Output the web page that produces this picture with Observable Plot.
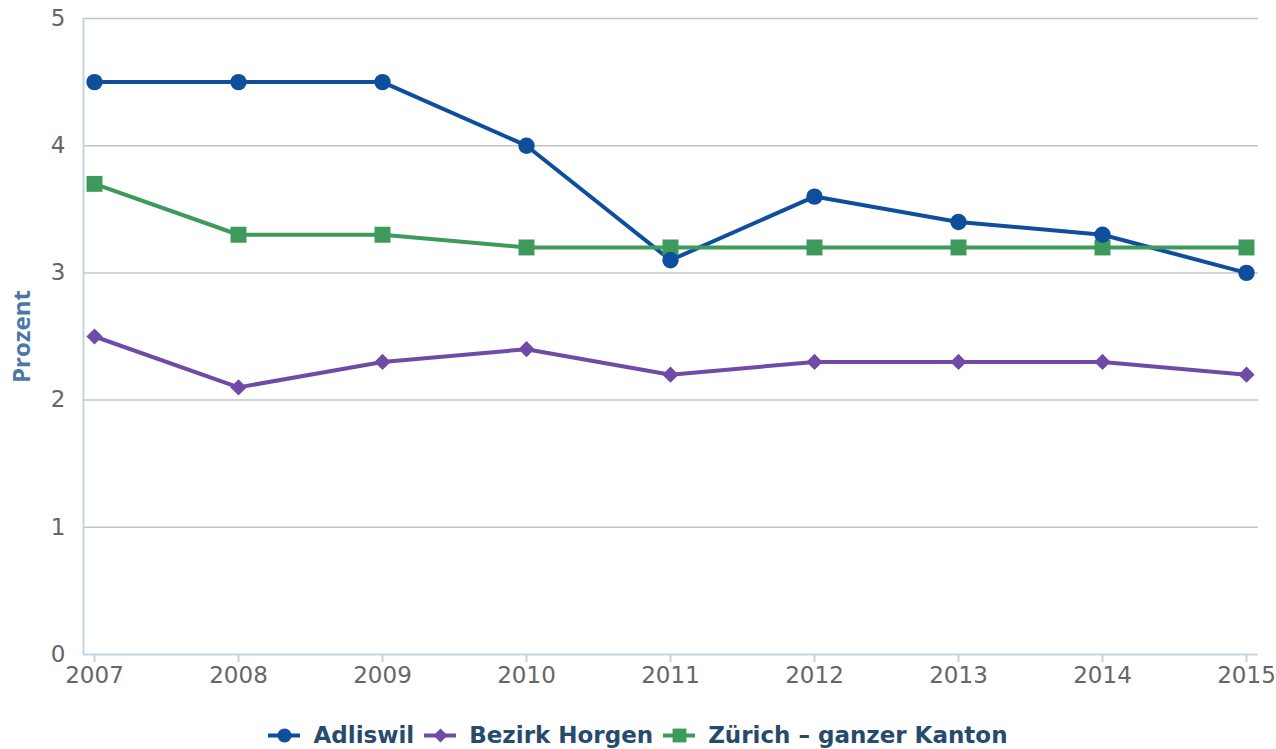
<!DOCTYPE html>
<html>
<head>
<meta charset="utf-8">
<script src="https://cdn.jsdelivr.net/npm/d3@7"></script>
<script src="https://cdn.jsdelivr.net/npm/@observablehq/plot@0.6"></script>
<style>
  html, body { margin: 0; padding: 0; background: #fff; }
  #chart svg { display: block; }
  #legend { display: flex; justify-content: center; align-items: center;
    font-family: "DejaVu Sans", sans-serif; font-weight: bold;
    font-size: 23px; color: #274b6d; margin-top: 31px; height: 28px; line-height: 28px; }
  .item { display: flex; align-items: center; margin: 0 5px; }
  .item svg { margin-right: 13px; }
</style>
</head>
<body>
<div id="chart"></div>
<div id="legend"></div>
<script>
const years = [2007, 2008, 2009, 2010, 2011, 2012, 2013, 2014, 2015];
const adliswil = [4.5, 4.5, 4.5, 4.0, 3.1, 3.6, 3.4, 3.3, 3.0];
const horgen = [2.5, 2.1, 2.3, 2.4, 2.2, 2.3, 2.3, 2.3, 2.2];
const zuerich = [3.7, 3.3, 3.3, 3.2, 3.2, 3.2, 3.2, 3.2, 3.2];
const seriesNames = ["Adliswil", "Bezirk Horgen", "Zürich – ganzer Kanton"];
const seriesColors = ["#0d4f9c", "#6f4aa6", "#3d9a5a"];
const seriesSymbols = ["circle", "diamond2", "square"];
const seriesR = [8.2, 7.3, 9.0];
const legendR = [7, 6.3, 7.8];
const yTicks = [0, 1, 2, 3, 4, 5];

const allValues = [adliswil, horgen, zuerich];
const data = [];
allValues.forEach((vals, i) => vals.forEach((v, j) => data.push({year: years[j], value: v, series: seriesNames[i]})));

const W = 1276, H = 690;
const x0 = 2007 - 11/144, x1 = 2015 + 12/144;
const chart = Plot.plot({
  width: W, height: H,
  marginTop: 18, marginBottom: 36, marginLeft: 83, marginRight: 18,
  style: {fontFamily: "'DejaVu Sans', sans-serif", fontSize: "23px", color: "#666", background: "#fff"},
  x: {domain: [x0, x1], ticks: years, tickFormat: "d"},
  y: {domain: [0, 5], ticks: yTicks},
  color: {domain: seriesNames, range: seriesColors},
  symbol: {domain: seriesNames, range: seriesSymbols},
  r: {type: "identity"},
  marks: [
    Plot.gridY(yTicks.filter(d => d > 0), {stroke: "#c4c4c4", strokeOpacity: 1, strokeWidth: 1.5}),
    Plot.ruleY([0], {stroke: "#c3d3e6", strokeWidth: 2}),
    Plot.ruleX([x0], {stroke: "#c3d3e6", strokeWidth: 2}),
    Plot.axisY({ticks: yTicks, tickFormat: "d", tickSize: 0, tickPadding: 18, label: null, fill: "#666"}),
    Plot.axisX({ticks: years, tickFormat: "d", tickSize: 8, stroke: "#c3d3e6", strokeWidth: 2, tickPadding: 4, label: null, fill: "#666"}),
    Plot.text(["Prozent"], {frameAnchor: "left", textAnchor: "middle", rotate: -90, dx: -61, fill: "#4a78a6",
      fontWeight: "bold", fontSize: 24, fontFamily: "'Open Sans', sans-serif"}),
    Plot.line(data, {x: "year", y: "value", z: "series", stroke: "series", strokeWidth: 4}),
    Plot.dot(data, {x: "year", y: "value", fill: "series", symbol: "series", r: d => seriesR[seriesNames.indexOf(d.series)], stroke: null})
  ]
});
document.getElementById("chart").appendChild(chart);

const legend = document.getElementById("legend");
seriesNames.forEach((name, i) => {
  const item = document.createElement("div");
  item.className = "item";
  const sw = Plot.plot({
    width: 32, height: 20, margin: 0,
    x: {domain: [0, 1], axis: null}, y: {domain: [0, 1], axis: null},
    color: {domain: seriesNames, range: seriesColors},
    symbol: {domain: seriesNames, range: seriesSymbols},
    r: {type: "identity"},
    marks: [
      Plot.ruleY([{v: 0.5, s: name}], {y: "v", stroke: "s", strokeWidth: 4, x1: 0, x2: 1}),
      Plot.dot([{x: 0.5, y: 0.5, s: name}], {x: "x", y: "y", fill: "s", symbol: "s", r: legendR[i]})
    ]
  });
  item.appendChild(sw);
  const t = document.createElement("span");
  t.textContent = name;
  item.appendChild(t);
  legend.appendChild(item);
});
</script>
</body>
</html>
